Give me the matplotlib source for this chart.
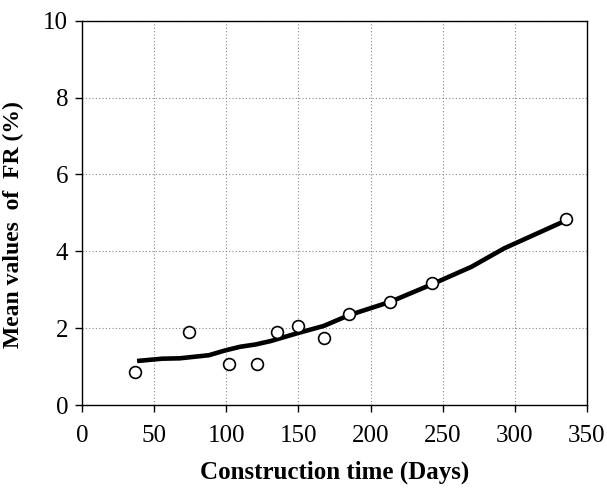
#!/usr/bin/env python3

import matplotlib
matplotlib.use("Agg")
import matplotlib.pyplot as plt

# Measured mean FR values (%)
days_obs = [36.6, 74.3, 102, 121, 135.4, 150, 167.5, 185.2, 213.8, 242.3, 335.8]
fr_obs = [0.86, 1.91, 1.08, 1.08, 1.91, 2.06, 1.76, 2.38, 2.69, 3.17, 4.85]

# Fitted trend line
days_fit = [38.2, 55.7, 67.8, 88, 98.8, 109.6, 120.4, 131, 150, 167.5, 185, 213.8, 242.3, 270, 292.7, 335.8]
fr_fit = [1.15, 1.21, 1.22, 1.30, 1.42, 1.52, 1.58, 1.67, 1.88, 2.06, 2.34, 2.69, 3.14, 3.60, 4.08, 4.81]

x_ticks = [0, 50, 100, 150, 200, 250, 300, 350]
y_ticks = [0, 2, 4, 6, 8, 10]

plt.rcParams['font.family'] = ['Liberation Serif', 'DejaVu Serif']

fig = plt.figure(figsize=(6.07, 4.90), dpi=100)
ax = fig.add_axes([0.135, 0.173, 0.832, 0.785])

ax.plot(days_fit, fr_fit, color='black', lw=3.3, solid_capstyle='butt', zorder=3)
ax.plot(days_obs, fr_obs, 'o', ms=8.5, mfc='white', mec='black', mew=1.2, zorder=4)

ax.set_xlim(0, 350)
ax.set_ylim(0, 10)
ax.set_xticks(x_ticks)
ax.set_yticks(y_ticks)
ax.grid(True, color='#888888', lw=0.8, ls=(0, (1, 2)))
ax.tick_params(direction='out', length=5, width=1, labelsize=18, pad=5)
ax.tick_params(axis='x', pad=9)
for s in ax.spines.values():
    s.set_linewidth(1)

ax.set_xlabel("Construction time (Days)", fontsize=18, fontweight='bold', labelpad=10)
ax.set_ylabel("Mean values  of  FR (%)", fontsize=17, fontweight='bold')
ax.yaxis.set_label_coords(-0.115, 0.47)

fig.savefig("out.png", dpi=100)
